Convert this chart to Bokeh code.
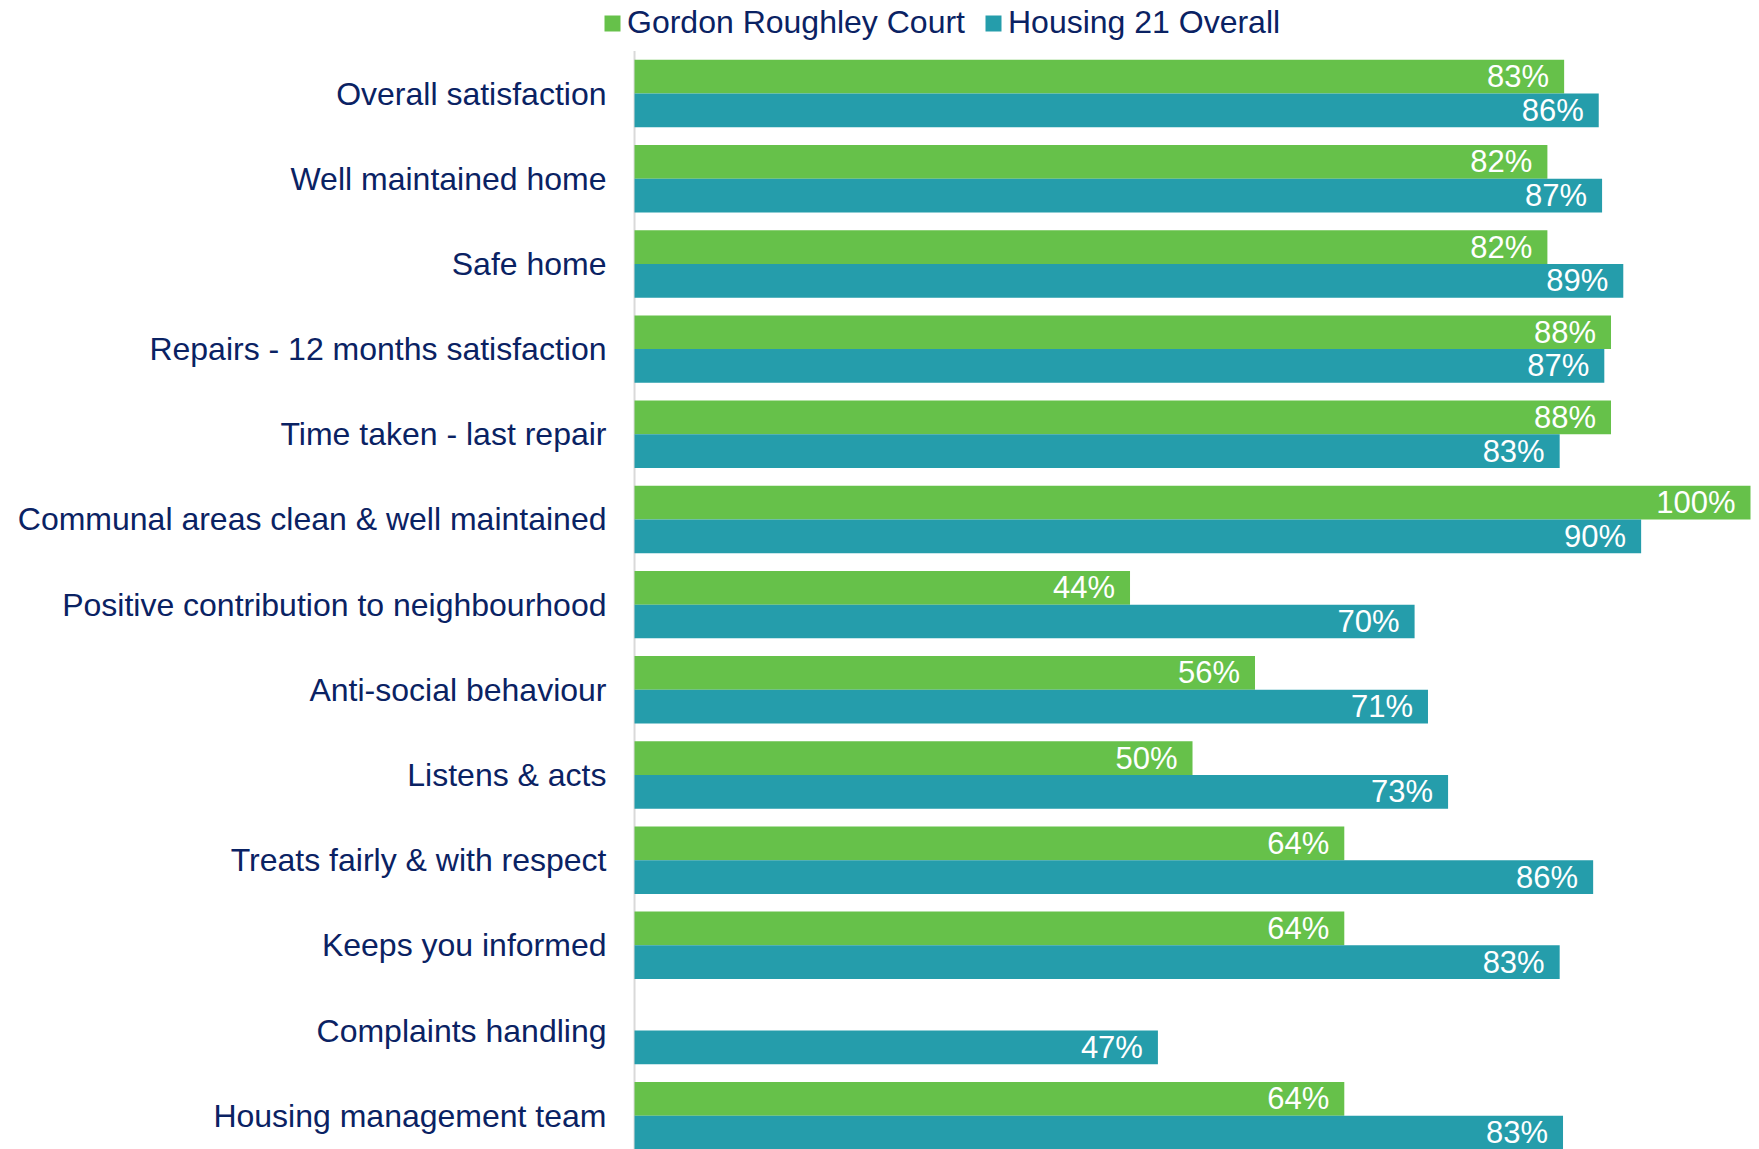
from bokeh.plotting import figure
from bokeh.models import (ColumnDataSource, Range1d, FixedTicker, Legend, LegendItem)
from bokeh.transform import dodge
from bokeh.core.properties import value
from bokeh.embed import file_html
from bokeh.resources import INLINE

categories = [
    "Overall satisfaction",
    "Well maintained home",
    "Safe home",
    "Repairs - 12 months satisfaction",
    "Time taken - last repair",
    "Communal areas clean & well maintained",
    "Positive contribution to neighbourhood",
    "Anti-social behaviour",
    "Listens & acts",
    "Treats fairly & with respect",
    "Keeps you informed",
    "Complaints handling",
    "Housing management team",
]
gordon = [83.3, 81.8, 81.8, 87.5, 87.5, 100, 44.4, 55.6, 50, 63.6, 63.6, None, 63.6]
housing21 = [86.4, 86.7, 88.6, 86.9, 82.9, 90.2, 69.9, 71.1, 72.9, 85.9, 82.9, 46.9, 83.2]
series_names = ["Gordon Roughley Court", "Housing 21 Overall"]
colors = ["#66C14A", "#259DAB"]

FONT = "Liberation Sans"
NAVY = "#0A2263"
n = len(categories)
ypos = [n - 1 - i for i in range(n)]

def make_source(vals):
    ys, xs, labels = [], [], []
    for y, v in zip(ypos, vals):
        if v is None:
            continue
        ys.append(y)
        xs.append(v)
        labels.append(f"{v:.0f}%")
    return ColumnDataSource(dict(y=ys, x=xs, label=labels))

src_g = make_source(gordon)
src_h = make_source(housing21)

W, H = 1759, 1149
FRAME_LEFT = 602
Y_BOTTOM = -0.397
p = figure(width=W, height=H, output_backend="svg", toolbar_location=None,
           x_range=Range1d(-2.87, 100.806),
           y_range=Range1d(Y_BOTTOM, 13.093),
           min_border_left=FRAME_LEFT, min_border_right=0,
           min_border_top=0, min_border_bottom=0)
p.outline_line_color = None
p.xgrid.visible = False
p.ygrid.visible = False
p.xaxis.visible = False

# value axis baseline (light grey), spanning the category bands only
p.segment(x0=[0], y0=[Y_BOTTOM], x1=[0], y1=[n - 0.5],
          line_color="#D9D9D9", line_width=2)

bh = 0.396
off = bh / 2
rg = p.hbar(y=dodge("y", off, range=p.y_range), right="x", left=0, height=bh,
            source=src_g, fill_color=colors[0], line_color=None)
rh = p.hbar(y=dodge("y", -off, range=p.y_range), right="x", left=0, height=bh,
            source=src_h, fill_color=colors[1], line_color=None)

for src, o in [(src_g, off), (src_h, -off)]:
    p.text(x="x", y=dodge("y", o, range=p.y_range), text="label", source=src,
           text_align="right", text_baseline="middle", x_offset=-15,
           text_font=value(FONT), text_font_size="31px", text_color="white")

yax = p.yaxis[0]
yax.ticker = FixedTicker(ticks=ypos)
yax.major_label_overrides = {y: c for y, c in zip(ypos, categories)}
yax.major_tick_in = 0
yax.major_tick_out = 0
yax.minor_tick_in = 0
yax.minor_tick_out = 0
yax.major_label_standoff = -4
yax.major_label_text_font = FONT
yax.major_label_text_font_size = "32px"
yax.major_label_text_color = NAVY
yax.axis_line_color = None

legend = Legend(items=[LegendItem(label=series_names[0], renderers=[rg]),
                       LegendItem(label=series_names[1], renderers=[rh])],
                orientation="horizontal", location=(0, 1108),
                glyph_width=20, glyph_height=20, label_standoff=5, spacing=18,
                padding=0, margin=0, border_line_color=None,
                background_fill_alpha=0,
                label_text_font=FONT, label_text_font_size="32px",
                label_text_color=NAVY)
p.add_layout(legend, "center")

open("out.html", "w").write(file_html(p, INLINE))
